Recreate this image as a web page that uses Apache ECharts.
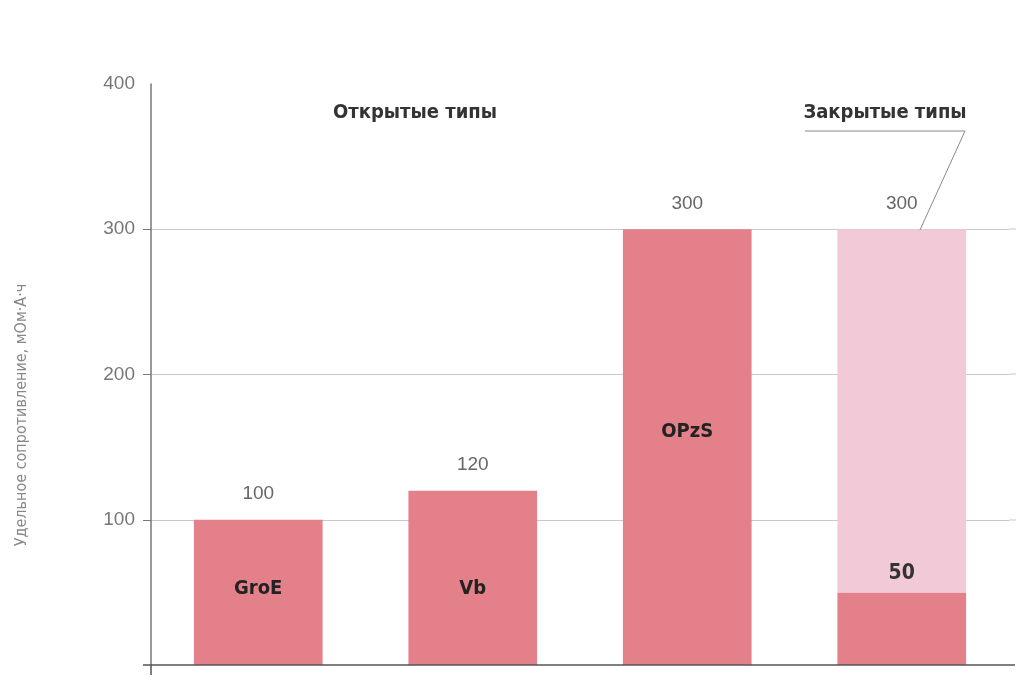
<!DOCTYPE html>
<html>
<head>
<meta charset="utf-8">
<script src="https://cdn.jsdelivr.net/npm/echarts@6/dist/echarts.min.js"></script>
<style>
  html, body { margin: 0; padding: 0; background: #fff; }
  #main { width: 1030px; height: 694px; }
</style>
</head>
<body>
<div id="main"></div>
<script>
// data
const categories = ['GroE', 'Vb', 'OPzS', 'Закрытые']
const baseValues = [100, 120, 300, 50]
const sealedValues = [null, null, null, 250]
const totalValues = [100, 120, 300, 300]
const yTicks = [100, 200, 300, 400]
const groupTitles = ['Открытые типы', 'Закрытые типы']
const yName = 'Удельное сопротивление, мОм·А·ч'

const RED = '#e4808a'
const PINK = '#f2c9d6'
const narrow = '"Liberation Sans Narrow", "DejaVu Sans Condensed", sans-serif'
const plain = '"Liberation Sans", Arial, sans-serif'

const chart = echarts.init(document.getElementById('main'))

// label offsets inside the bars
const nameOffsets = [[0, -4], [0, 11], [0, -15]]

const baseData = baseValues.map((v, i) => {
  if (i < 3) {
    return {
      value: v,
      label: {
        show: true,
        position: 'inside',
        offset: nameOffsets[i],
        formatter: categories[i],
        fontFamily: narrow,
        fontWeight: 'bold',
        fontSize: 20,
        color: '#222',
      },
    }
  }
  return {
    value: v,
    label: {
      show: true,
      position: 'top',
      distance: 8,
      formatter: String(v),
      fontFamily: narrow,
      fontWeight: 'bold',
      fontSize: 21,
      color: '#333',
    },
  }
})

const option = {
  animation: false,
  grid: { left: 151, right: 21, top: 84, bottom: 29 },
  xAxis: {
    type: 'category',
    data: categories,
    axisLabel: { show: false },
    axisTick: { show: false },
    axisLine: { show: false },
  },
  yAxis: {
    type: 'value',
    min: 0,
    max: 400,
    interval: 100,
    axisLabel: {
      fontFamily: plain,
      fontSize: 19,
      color: '#777',
      margin: 16,
      formatter: (v) => (yTicks.includes(v) ? String(v) : ''),
    },
    axisLine: { show: true, lineStyle: { color: '#777', width: 1.5 } },
    axisTick: {
      show: true,
      length: 8,
      lineStyle: { color: '#777' },
      customValues: [100, 200, 300],
    },
    splitLine: {
      show: true,
      lineStyle: { color: '#c8c8c8', width: 1 },
    },
  },
  series: [
    {
      name: 'base',
      type: 'bar',
      stack: 'a',
      barCategoryGap: '40%',
      itemStyle: { color: RED },
      data: baseData,
      z: 3,
    },
    {
      name: 'sealed',
      type: 'bar',
      stack: 'a',
      itemStyle: { color: PINK },
      data: sealedValues,
      z: 3,
    },
    {
      name: 'total',
      type: 'bar',
      barGap: '-100%',
      barCategoryGap: '40%',
      silent: true,
      itemStyle: { color: 'rgba(0,0,0,0)' },
      label: {
        show: true,
        position: 'top',
        distance: 16,
        fontFamily: plain,
        fontSize: 19,
        color: '#666',
      },
      data: totalValues,
      z: 2,
    },
  ],
  graphic: [
    // bottom axis line with cross at origin
    {
      type: 'line',
      shape: { x1: 143, y1: 665, x2: 1015, y2: 665 },
      style: { stroke: '#555', lineWidth: 1.5 },
      z: 10,
    },
    {
      type: 'line',
      shape: { x1: 151, y1: 665, x2: 151, y2: 675 },
      style: { stroke: '#555', lineWidth: 1.5 },
      z: 10,
    },
    // extend grid lines to the right
    ...[229, 374, 520].map((y) => ({
      type: 'line',
      shape: { x1: 1009, y1: y, x2: 1016, y2: y },
      style: { stroke: '#c8c8c8', lineWidth: 1 },
    })),
    {
      type: 'text',
      x: 22,
      y: 415,
      rotation: Math.PI / 2,
      style: {
        text: yName,
        fontFamily: narrow,
        fontSize: 16,
        fill: '#888',
        align: 'center',
        verticalAlign: 'middle',
      },
    },
    {
      type: 'text',
      x: 415,
      y: 113,
      style: {
        text: groupTitles[0],
        fontFamily: narrow,
        fontWeight: 'bold',
        fontSize: 20,
        fill: '#333',
        align: 'center',
        verticalAlign: 'middle',
      },
    },
    {
      type: 'text',
      x: 885,
      y: 113,
      style: {
        text: groupTitles[1],
        fontFamily: narrow,
        fontWeight: 'bold',
        fontSize: 20,
        fill: '#333',
        align: 'center',
        verticalAlign: 'middle',
      },
    },
    {
      type: 'polyline',
      shape: { points: [[805, 131], [965, 131], [920, 230]] },
      style: { stroke: '#888', lineWidth: 1, fill: null },
      z: 10,
    },
  ],
}

chart.setOption(option)
</script>
</body>
</html>
